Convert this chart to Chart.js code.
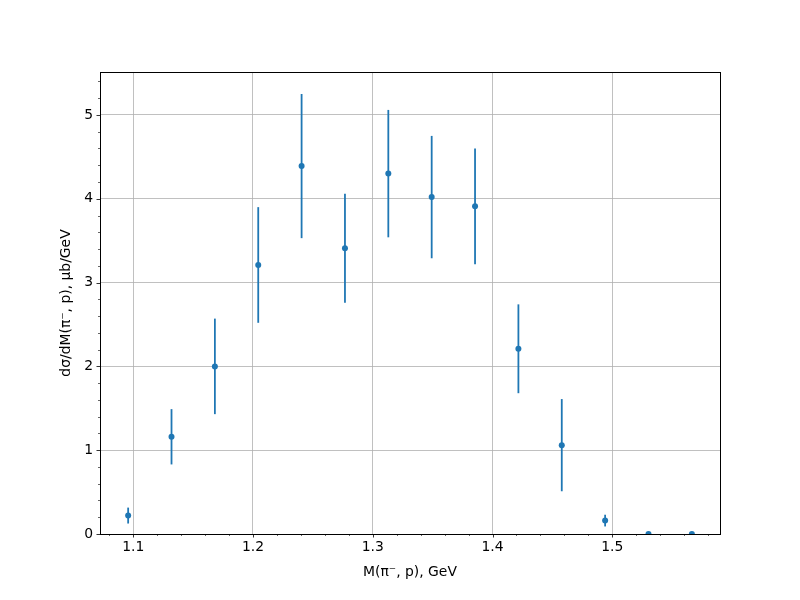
<!DOCTYPE html>
<html>
<head>
<meta charset="utf-8">
<script src="https://cdn.jsdelivr.net/npm/chart.js@4"></script>
<style>
  html, body { margin: 0; padding: 0; background: #fff; }
  #wrap { width: 800px; height: 600px; }
</style>
</head>
<body>
<div id="wrap"><canvas id="c" width="800" height="600"></canvas></div>
<script>
// Data
const massBins = [1.0958, 1.1320, 1.1682, 1.2044, 1.2406, 1.2768, 1.3130, 1.3492, 1.3854, 1.4216, 1.4578, 1.4940, 1.5302, 1.5664];
const crossSection = [0.22, 1.16, 2.00, 3.21, 4.39, 3.41, 4.30, 4.02, 3.91, 2.21, 1.06, 0.16, 0, 0];
const crossSectionErr = [0.095, 0.33, 0.57, 0.69, 0.86, 0.65, 0.76, 0.73, 0.69, 0.53, 0.55, 0.07, 0, 0];
const xTickValues = [1.1, 1.2, 1.3, 1.4, 1.5];
const yTickValues = [0, 1, 2, 3, 4, 5];
const xTitle = 'M(π⁻, p), GeV';
const yTitle = 'dσ/dM(π⁻, p), μb/GeV';

const BLUE = '#1f77b4';
const FONT = 'DejaVu Sans';

const points = massBins.map((x, i) => ({ x: x, y: crossSection[i] }));

const errorBarPlugin = {
  id: 'errorBars',
  beforeDatasetsDraw(chart) {
    const ctx = chart.ctx, xs = chart.scales.x, ys = chart.scales.y;
    const a = chart.chartArea;
    ctx.save();
    ctx.beginPath();
    ctx.rect(a.left, a.top, a.right - a.left, a.bottom - a.top);
    ctx.clip();
    ctx.strokeStyle = BLUE;
    ctx.lineWidth = 1.8;
    massBins.forEach((x, i) => {
      const e = crossSectionErr[i];
      if (!e) return;
      const px = xs.getPixelForValue(x);
      ctx.beginPath();
      ctx.moveTo(px, ys.getPixelForValue(crossSection[i] - e));
      ctx.lineTo(px, ys.getPixelForValue(crossSection[i] + e));
      ctx.stroke();
    });
    ctx.restore();
  },
  afterDatasetsDraw(chart) {
    const ctx = chart.ctx, xs = chart.scales.x, ys = chart.scales.y;
    const a = chart.chartArea;
    ctx.save();
    ctx.strokeStyle = '#000';
    const xMajor = xTickValues, yMajor = yTickValues;
    ctx.lineWidth = 0.8;
    xMajor.forEach(v => {
      const p = Math.round(xs.getPixelForValue(v)) + 0.5;
      ctx.beginPath(); ctx.moveTo(p, a.bottom); ctx.lineTo(p, a.bottom + 3.5); ctx.stroke();
    });
    yMajor.forEach(v => {
      const p = Math.round(ys.getPixelForValue(v)) + 0.5;
      ctx.beginPath(); ctx.moveTo(a.left, p); ctx.lineTo(a.left - 3.5, p); ctx.stroke();
    });
    ctx.lineWidth = 0.6;
    for (let k = 0; k <= 60; k++) {
      const v = 1.0 + k * 0.02;
      if (v < xs.min || v > xs.max) continue;
      if (xMajor.some(m => Math.abs(m - v) < 1e-6)) continue;
      const p = Math.round(xs.getPixelForValue(v)) + 0.5;
      ctx.beginPath(); ctx.moveTo(p, a.bottom); ctx.lineTo(p, a.bottom + 2); ctx.stroke();
    }
    for (let k = 0; k <= 40; k++) {
      const v = k * 0.2;
      if (v < ys.min || v > ys.max) continue;
      if (yMajor.some(m => Math.abs(m - v) < 1e-6)) continue;
      const p = Math.round(ys.getPixelForValue(v)) + 0.5;
      ctx.beginPath(); ctx.moveTo(a.left, p); ctx.lineTo(a.left - 2, p); ctx.stroke();
    }
    ctx.lineWidth = 1;
    ctx.strokeRect(Math.round(a.left) + 0.5, Math.round(a.top) + 0.5,
                   Math.round(a.right - a.left), Math.round(a.bottom - a.top));
    ctx.restore();
  }
};

new Chart(document.getElementById('c'), {
  type: 'scatter',
  data: {
    datasets: [{
      data: points,
      backgroundColor: BLUE,
      borderColor: BLUE,
      pointRadius: 3,
      pointHoverRadius: 3,
      borderWidth: 0,
      clip: 0
    }]
  },
  options: {
    responsive: false,
    animation: false,
    events: [],
    layout: { padding: { left: 58, top: 72, right: 80, bottom: 0 } },
    plugins: { legend: { display: false }, tooltip: { enabled: false } },
    scales: {
      x: {
        type: 'linear',
        min: 1.0723,
        max: 1.5899,
        afterFit(s) { s.height = 66; },
        afterBuildTicks(s) { s.ticks = xTickValues.map(v => ({ value: v })); },
        ticks: {
          color: '#000',
          font: { family: FONT, size: 13.9 },
          padding: 5,
          maxRotation: 0,
          autoSkip: false,
          callback: v => v.toFixed(1)
        },
        grid: { color: '#b0b0b0', lineWidth: 0.8, drawTicks: false },
        border: { display: false },
        title: {
          display: true,
          text: xTitle,
          color: '#000',
          font: { family: FONT, size: 13.9 },
          padding: { top: 0, bottom: 19 }
        }
      },
      y: {
        type: 'linear',
        min: 0,
        max: 5.5125,
        afterFit(s) { s.width = 42; },
        afterBuildTicks(s) { s.ticks = yTickValues.map(v => ({ value: v })); },
        ticks: {
          color: '#000',
          font: { family: FONT, size: 13.9 },
          padding: 7,
          autoSkip: false,
          callback: v => String(v)
        },
        grid: { color: '#b0b0b0', lineWidth: 0.8, drawTicks: false },
        border: { display: false },
        title: {
          display: true,
          text: yTitle,
          color: '#000',
          font: { family: FONT, size: 13.9 },
          padding: { top: 0, bottom: 0 }
        }
      }
    }
  },
  plugins: [errorBarPlugin]
});
</script>
</body>
</html>
